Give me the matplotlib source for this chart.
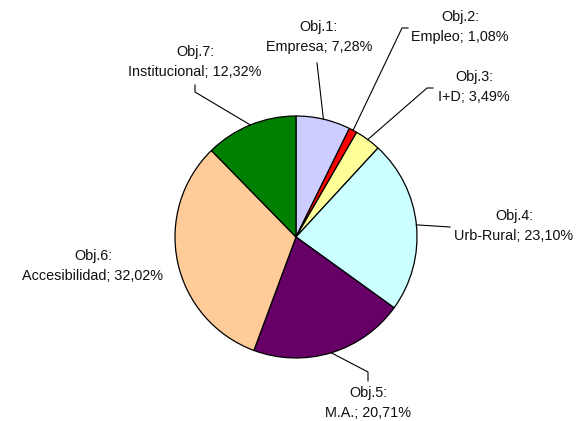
import matplotlib
matplotlib.use("Agg")
import matplotlib.pyplot as plt
import numpy as np

plt.rcParams['font.family'] = ['Liberation Sans', 'DejaVu Sans']

codes = ["Obj.1:", "Obj.2:", "Obj.3:", "Obj.4:", "Obj.5:", "Obj.6:", "Obj.7:"]
names = ["Empresa", "Empleo", "I+D", "Urb-Rural", "M.A.", "Accesibilidad", "Institucional"]
values = [7.28, 1.08, 3.49, 23.10, 20.71, 32.02, 12.32]
colors = ["#CCCCFF", "#FF0000", "#FFFF99", "#CCFFFF", "#660066", "#FFCC99", "#008000"]

# layout (pixel coordinates, y downward)
W, H = 578, 421
cx, cy, R = 296, 237, 121
text_pos = [(319, 37), (460, 27), (474, 87), (514, 226), (368, 403), (93, 266), (195, 62)]
# leader elbows: list of points after the wedge edge point (None = no leader)
elbows = [
    [(317, 63)],
    [(402, 28), (408, 28)],
    [(427, 88), (433, 88)],
    [(450, 227)],
    [(368, 372), (368, 381)],
    None,
    [(195, 92), (195, 85)],
]

fig = plt.figure(figsize=(W / 100, H / 100), dpi=100)
ax = fig.add_axes([0, 0, 1, 1])
wedges, _ = ax.pie(values, colors=colors, startangle=-90, counterclock=True,
                   center=(cx, cy), radius=R,
                   wedgeprops=dict(edgecolor='black', linewidth=0.9))
ax.set_xlim(0, W)
ax.set_ylim(H, 0)
ax.set_aspect('equal')
ax.axis('off')

for w, code, name, v, tp, el in zip(wedges, codes, names, values, text_pos, elbows):
    label = f"{code}\n{name}; " + f"{v:.2f}".replace('.', ',') + "%"
    ax.text(tp[0], tp[1], label, ha='center', va='center', fontsize=10.4,
            linespacing=1.6, color='#111111')
    if el is not None:
        ang = np.deg2rad((w.theta1 + w.theta2) / 2)
        ex, ey = cx + R * np.cos(ang), cy + R * np.sin(ang)
        xs = [ex] + [p[0] for p in el]
        ys = [ey] + [p[1] for p in el]
        ax.plot(xs, ys, color='black', linewidth=0.8)

fig.savefig("out.png", dpi=100)
